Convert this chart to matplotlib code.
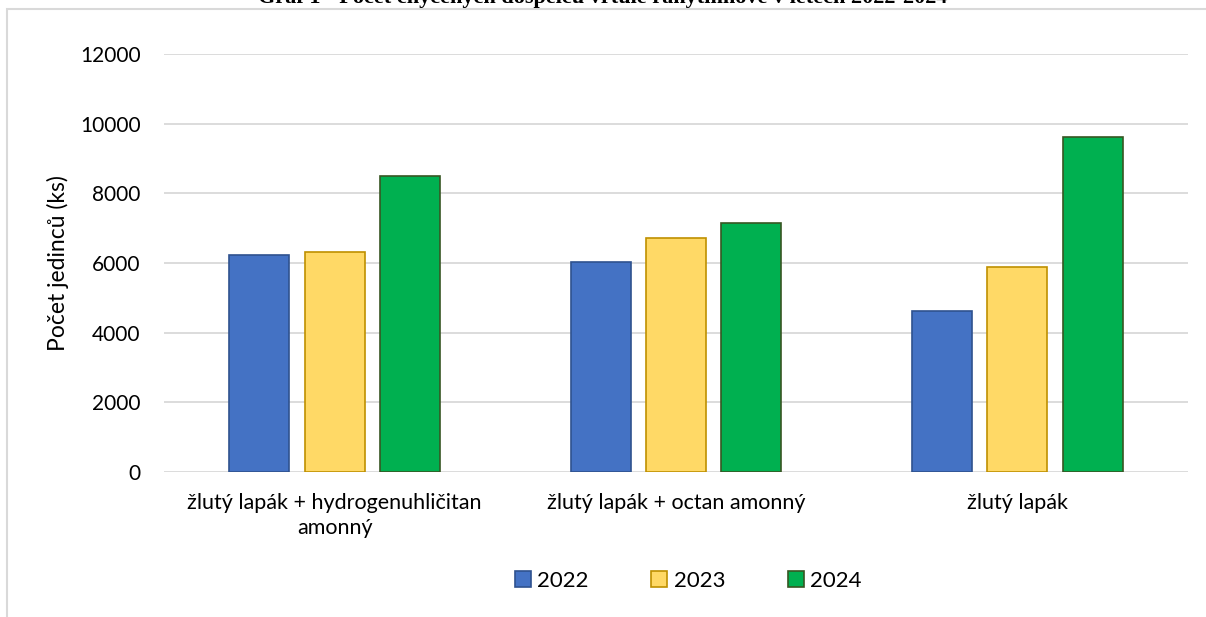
import matplotlib.pyplot as plt
import numpy as np
from matplotlib.patches import Rectangle

categories = ['žlutý lapák + hydrogenuhličitan\namonný',
              'žlutý lapák + octan amonný',
              'žlutý lapák']
years = ['2022', '2023', '2024']
v2022 = [6230, 6030, 4610]
v2023 = [6310, 6710, 5880]
v2024 = [8510, 7150, 9630]

colors = ['#4472C4', '#FFD966', '#00B050']
edges = ['#2F528F', '#BF9000', '#375623']

plt.rcParams['font.family'] = ['Lato', 'DejaVu Sans']

fig = plt.figure(figsize=(12.06, 6.17), dpi=100)
ax = fig.add_axes([0.136, 0.235, 0.849, 0.6775])

x = np.arange(len(categories))
w = 0.176
step = 0.221
for i, vals in enumerate([v2022, v2023, v2024]):
    ax.bar(x + (i - 1) * step, vals, w, color=colors[i], edgecolor=edges[i],
           linewidth=1.2, label=years[i], zorder=3)

ax.set_xlim(-0.5, 2.5)
ax.set_ylim(0, 12000)
ax.set_yticks(np.arange(0, 12001, 2000))
ax.yaxis.grid(True, color='#D9D9D9', linewidth=1.3, zorder=0)
for s in ax.spines.values():
    s.set_visible(False)
ax.tick_params(axis='both', length=0, colors='#000000')
ax.tick_params(axis='y', pad=17, labelsize=15)
ax.tick_params(axis='x', pad=15, labelsize=15.5)
ax.set_xticks(x)
ax.set_xticklabels(categories, linespacing=1.35)
ax.set_ylabel('Počet jedinců (ks)', fontsize=16.5, labelpad=8)

ax.legend(loc='center', bbox_to_anchor=(0.512, -0.26), ncol=3, frameon=False,
          fontsize=16, handlelength=0.72, handleheight=0.72, handletextpad=0.3,
          columnspacing=2.8)

# chart frame
fig.patches.append(Rectangle((7 / 1206, -0.1), 1.2, 1 - 9 / 617 + 0.1,
                             transform=fig.transFigure, fill=False,
                             edgecolor='#D9D9D9', linewidth=1.5))

fig.text(0.5, 1 - 3 / 617, 'Graf 1 - Počet chycených dospělců vrtule ranytinnové v letech 2022-2024',
         ha='center', va='baseline', fontsize=16, fontweight='bold',
         family=['Liberation Serif', 'DejaVu Serif'])

fig.savefig('out.png', dpi=100)
